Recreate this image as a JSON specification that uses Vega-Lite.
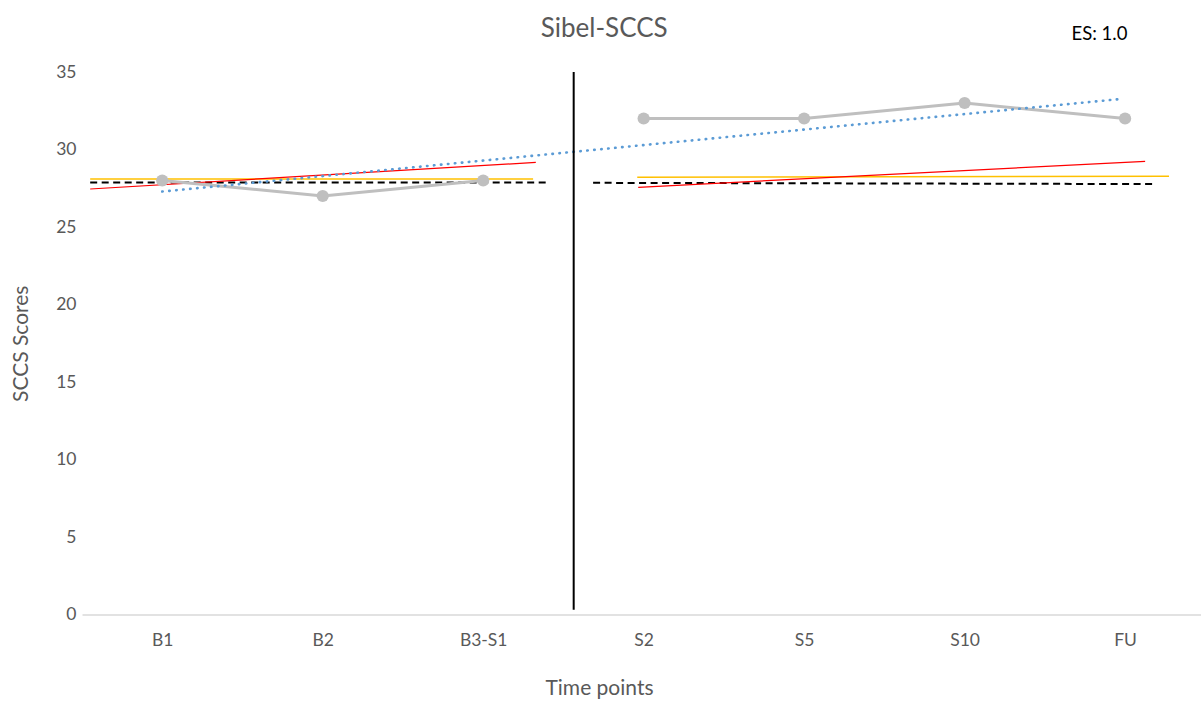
{
  "$schema": "https://vega.github.io/schema/vega-lite/v6.json",
  "width": 1118.5,
  "height": 542.5,
  "autosize": {"type": "none"},
  "padding": {"left": 82, "top": 72, "right": 0, "bottom": 87},
  "background": "white",
  "title": {
    "text": "Sibel-SCCS",
    "font": "Lato",
    "fontSize": 26,
    "fontWeight": "normal",
    "color": "#595959",
    "anchor": "middle",
    "offset": -17,
    "dx": -37
  },
  "config": {
    "view": {"stroke": null},
    "font": "Lato"
  },
  "encoding": {
    "x": {
      "field": "idx",
      "type": "quantitative",
      "scale": {"domain": [0.5, 7.47], "nice": false, "zero": false},
      "axis": {
        "title": "Time points",
        "values": [1, 2, 3, 4, 5, 6, 7],
        "labelExpr": "['B1','B2','B3-S1','S2','S5','S10','FU'][datum.value - 1]",
        "grid": false,
        "ticks": false,
        "domainColor": "#D9D9D9",
        "domainWidth": 1.5,
        "labelFont": "Lato",
        "labelFontSize": 17.5,
        "labelColor": "#595959",
        "labelPadding": 17,
        "titleFont": "Lato",
        "titleFontSize": 21,
        "titleFontWeight": "normal",
        "titleColor": "#595959",
        "titlePadding": 28,
        "titleX": 517,
        "titleAlign": "center"
      }
    },
    "y": {
      "field": "value",
      "type": "quantitative",
      "scale": {"domain": [0, 35], "nice": false},
      "axis": {
        "title": "SCCS Scores",
        "values": [0, 5, 10, 15, 20, 25, 30, 35],
        "grid": false,
        "ticks": false,
        "domain": false,
        "labelFont": "Lato",
        "labelFontSize": 17.5,
        "labelColor": "#595959",
        "labelPadding": 6,
        "titleFont": "Lato",
        "titleFontSize": 21,
        "titleFontWeight": "normal",
        "titleColor": "#595959",
        "titlePadding": 24
      }
    }
  },
  "layer": [
    {
      "data": {"values": [
        {"series": "baseline", "idx": 0.551, "value": 28.1},
        {"series": "baseline", "idx": 3.311, "value": 28.1},
        {"series": "treatment", "idx": 3.96, "value": 28.21},
        {"series": "treatment", "idx": 7.274, "value": 28.27}
      ]},
      "mark": {"type": "line", "color": "#FFC000", "strokeWidth": 1.5},
      "encoding": {"detail": {"field": "series"}}
    },
    {
      "data": {"values": [
        {"series": "baseline", "idx": 0.551, "value": 27.87},
        {"series": "baseline", "idx": 3.411, "value": 27.87},
        {"series": "treatment", "idx": 3.685, "value": 27.85},
        {"series": "treatment", "idx": 7.193, "value": 27.77}
      ]},
      "mark": {"type": "line", "color": "#000000", "strokeWidth": 2, "strokeDash": [7, 4.5]},
      "encoding": {"detail": {"field": "series"}}
    },
    {
      "data": {"values": [
        {"series": "baseline", "idx": 0.551, "value": 27.45},
        {"series": "baseline", "idx": 3.328, "value": 29.17},
        {"series": "treatment", "idx": 3.966, "value": 27.56},
        {"series": "treatment", "idx": 7.125, "value": 29.24}
      ]},
      "mark": {"type": "line", "color": "#FF0000", "strokeWidth": 1.2},
      "encoding": {"detail": {"field": "series"}}
    },
    {
      "data": {"values": [
        {"series": "baseline", "time": "B1", "idx": 1, "value": 28},
        {"series": "baseline", "time": "B2", "idx": 2, "value": 27},
        {"series": "baseline", "time": "B3-S1", "idx": 3, "value": 28},
        {"series": "treatment", "time": "S2", "idx": 4, "value": 32},
        {"series": "treatment", "time": "S5", "idx": 5, "value": 32},
        {"series": "treatment", "time": "S10", "idx": 6, "value": 33},
        {"series": "treatment", "time": "FU", "idx": 7, "value": 32}
      ]},
      "mark": {"type": "line", "color": "#BFBFBF", "strokeWidth": 3, "point": {"filled": true, "size": 150, "color": "#BFBFBF", "opacity": 1}},
      "encoding": {"detail": {"field": "series"}}
    },
    {
      "data": {"values": [
        {"idx": 1, "value": 27.286},
        {"idx": 6.975, "value": 33.26}
      ]},
      "mark": {"type": "line", "color": "#5B9BD5", "strokeWidth": 2.6, "strokeCap": "round", "strokeDash": [0.5, 6.5]},
      "encoding": {}
    },
    {
      "data": {"values": [
        {"idx": 3.564, "value": 0.3, "value2": 35}
      ]},
      "mark": {"type": "rule", "color": "#000000", "strokeWidth": 2},
      "encoding": {"y2": {"field": "value2"}}
    },
    {
      "data": {"values": [
        {"idx": 6.84, "value": 37.45, "label": "ES: 1.0"}
      ]},
      "mark": {"type": "text", "font": "Lato", "fontSize": 18.5, "color": "#000000", "align": "center", "baseline": "middle"},
      "encoding": {"text": {"field": "label"}}
    }
  ]
}
